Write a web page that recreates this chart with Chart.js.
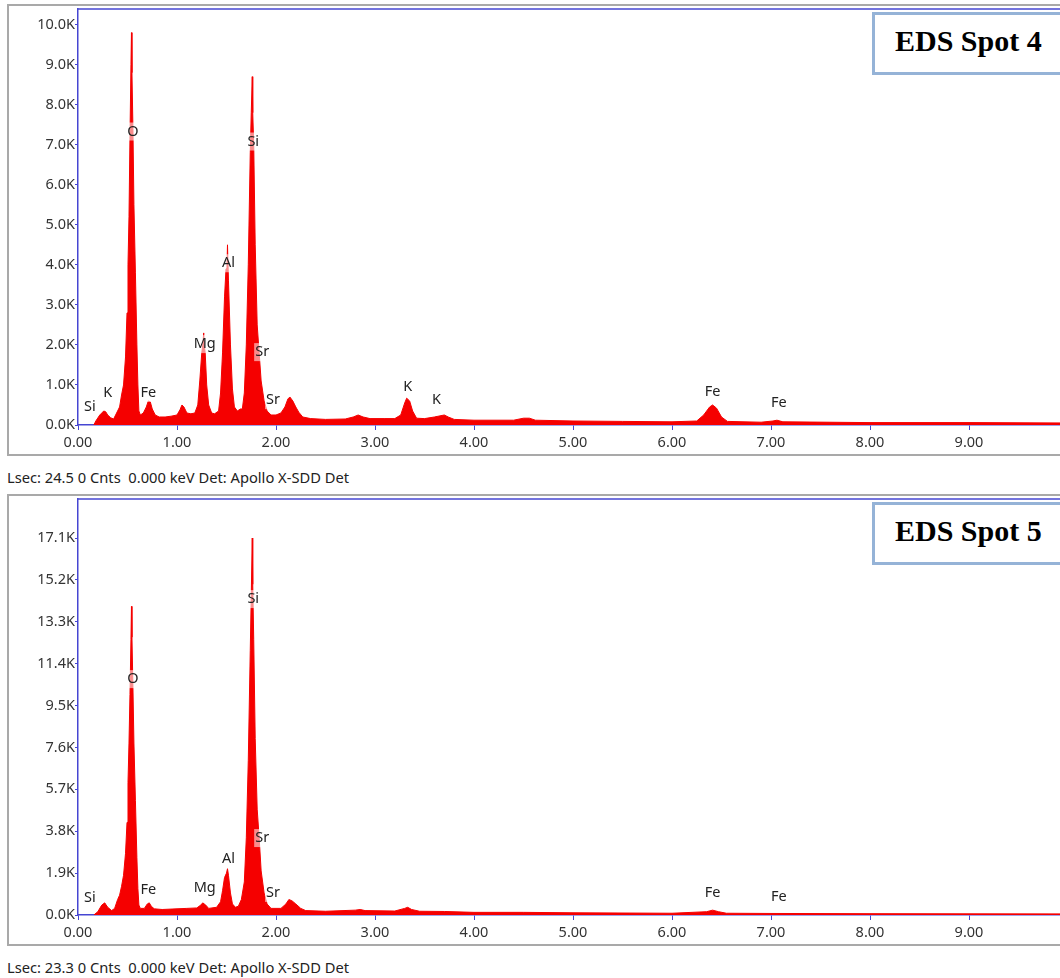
<!DOCTYPE html>
<html>
<head>
<meta charset="utf-8">
<script src="https://cdn.jsdelivr.net/npm/chart.js@4/dist/chart.umd.min.js"></script>
<style>
  html, body { margin: 0; padding: 0; background: #fff; overflow: hidden; width: 1060px; height: 978px; }
  .frame { position: absolute; left: 7px; width: 1100px; height: 452px; border: 2px solid #a9a9a9; box-sizing: border-box; }
  .panel { position: absolute; left: 0; }
  .status { position: absolute; left: 7px; font: 14.7px "Noto Sans", sans-serif; color: #222; }
  .spot { position: absolute; left: 872px; width: 200px; height: 63px; border: 3px solid #95b3d7; background: #fff;
          box-sizing: border-box; font: bold 30px "Liberation Serif", serif; color: #000; padding: 9px 0 0 20px; }
</style>
</head>
<body>
<div class="frame" style="top:4px"></div>
<div class="frame" style="top:494px"></div>
<canvas id="spot4" class="panel" style="top:0" width="1070" height="456"></canvas>
<canvas id="spot5" class="panel" style="top:490px" width="1070" height="456"></canvas>
<div class="spot" style="top:12px">EDS Spot 4</div>
<div class="spot" style="top:502px">EDS Spot 5</div>
<div class="status" style="top:467px">Lsec: 24.5 0 Cnts&nbsp;&nbsp;0.000 keV Det: Apollo X-SDD Det</div>
<div class="status" style="top:957px">Lsec: 23.3 0 Cnts&nbsp;&nbsp;0.000 keV Det: Apollo X-SDD Det</div>
<script>
// energy axis ticks (keV)
const energyTicks = [0, 1, 2, 3, 4, 5, 6, 7, 8, 9];

// Spot 4 spectrum
const spot4Energy = [0.16, 0.18, 0.22, 0.26, 0.28, 0.30, 0.33, 0.36, 0.38, 0.40, 0.42, 0.44, 0.46, 0.48, 0.495, 0.505,
  0.515, 0.525, 0.535, 0.54, 0.545, 0.555, 0.565, 0.58, 0.595, 0.605, 0.615, 0.63, 0.66, 0.69, 0.71, 0.73, 0.75, 0.78,
  0.82, 0.88, 0.94, 1.00, 1.03, 1.05, 1.07, 1.10, 1.14, 1.18, 1.21, 1.23, 1.25, 1.26, 1.27, 1.275, 1.285, 1.30, 1.32,
  1.35, 1.38, 1.42, 1.44, 1.46, 1.48, 1.495, 1.505, 1.51, 1.52, 1.54, 1.56, 1.58, 1.61, 1.64, 1.66, 1.68, 1.70, 1.72,
  1.74, 1.75, 1.76, 1.765, 1.775, 1.79, 1.81, 1.83, 1.85, 1.88, 1.91, 1.95, 2.00, 2.05, 2.09, 2.12, 2.14, 2.17, 2.20,
  2.23, 2.27, 2.35, 2.50, 2.70, 2.78, 2.83, 2.88, 2.95, 3.10, 3.20, 3.26, 3.30, 3.32, 3.35, 3.38, 3.42, 3.50, 3.60,
  3.70, 3.74, 3.80, 4.00, 4.40, 4.50, 4.56, 4.62, 5.00, 5.50, 6.00, 6.25, 6.32, 6.38, 6.41, 6.45, 6.50, 6.56, 6.90,
  7.02, 7.06, 7.12, 8.00, 9.00, 10.00];
const spot4Counts = [0, 100, 250, 350, 330, 250, 180, 150, 250, 350, 450, 750, 1000, 1700, 2800, 4000,
  5200, 7200, 9000, 9800, 8800, 7400, 5500, 3800, 2000, 1000, 350, 250, 300, 450, 600, 580, 400, 250,
  200, 200, 220, 250, 380, 500, 450, 300, 280, 300, 500, 1100, 1800, 2000, 2300, 2000, 1800, 1000, 500,
  300, 280, 350, 800, 1800, 3200, 3900, 4000, 4500, 3600, 2000, 900, 450, 350, 400, 400, 800, 2000, 4000,
  6800, 7800, 8700, 7800, 7000, 4500, 2500, 1800, 1100, 600, 350, 250, 250, 300, 450, 650, 700, 600, 450,
  320, 200, 160, 140, 150, 200, 250, 200, 160, 160, 160, 250, 550, 670, 600, 350, 170, 160, 200,
  250, 200, 140, 120, 120, 170, 170, 120, 100, 90, 80, 100, 250, 450, 500, 420, 200, 90, 70,
  100, 120, 80, 60, 60, 50];
const spot4YTicks = [0, 1000, 2000, 3000, 4000, 5000, 6000, 7000, 8000, 9000, 10000];
const spot4YMax = 10390;
const spot4Lines = ["Si", "K", "O", "Fe", "Mg", "Al", "Si", "Sr", "Sr", "K", "K", "Fe", "Fe"];
const spot4LineEnergy = [0.12, 0.30, 0.555, 0.71, 1.28, 1.52, 1.77, 1.86, 1.97, 3.33, 3.62, 6.41, 7.08];
const spot4LineCounts = [450, 800, 7330, 800, 2020, 4040, 7080, 1820, 620, 950, 620, 820, 550];

// Spot 5 spectrum
const spot5Energy = [0.16, 0.20, 0.24, 0.27, 0.30, 0.34, 0.37, 0.40, 0.42, 0.44, 0.46, 0.48, 0.495, 0.505, 0.515,
  0.525, 0.535, 0.54, 0.545, 0.555, 0.565, 0.58, 0.595, 0.605, 0.615, 0.63, 0.67, 0.70, 0.72, 0.74, 0.77, 0.85,
  1.00, 1.10, 1.20, 1.24, 1.26, 1.29, 1.32, 1.40, 1.44, 1.46, 1.48, 1.50, 1.51, 1.52, 1.54, 1.56, 1.59, 1.62, 1.65,
  1.68, 1.70, 1.72, 1.74, 1.75, 1.76, 1.765, 1.775, 1.79, 1.81, 1.83, 1.85, 1.88, 1.91, 1.95, 2.05, 2.10, 2.13,
  2.16, 2.20, 2.25, 2.30, 2.50, 2.80, 2.85, 2.90, 3.20, 3.30, 3.33, 3.37, 3.45, 3.70, 4.00, 4.50, 5.00, 6.00, 6.35,
  6.41, 6.47, 6.55, 7.00, 8.00, 10.00];
const spot5Counts = [0, 150, 450, 550, 350, 200, 300, 700, 900, 1300, 1800, 2800, 4200, 6000, 7800,
  10000, 12500, 14000, 12600, 10300, 7800, 5200, 2600, 1200, 450, 300, 300, 500, 550, 400, 280, 250,
  280, 300, 320, 450, 550, 450, 300, 350, 600, 1100, 1700, 1900, 2100, 1800, 1000, 500, 350, 400, 700,
  1500, 3500, 7000, 12000, 14500, 17100, 15000, 12500, 8000, 4800, 3500, 2000, 1000, 500, 300, 300, 500, 700,
  650, 500, 300, 200, 170, 220, 250, 200, 180, 300, 350, 250, 170, 160, 120, 120, 100, 80, 150,
  220, 150, 80, 70, 60, 50];
const spot5YTicks = [0, 1900, 3800, 5700, 7600, 9500, 11400, 13300, 15200, 17100];
const spot5YMax = 18870;
const spot5Lines = ["Si", "O", "Fe", "Mg", "Al", "Si", "Sr", "Sr", "Fe", "Fe"];
const spot5LineEnergy = [0.12, 0.555, 0.71, 1.28, 1.52, 1.77, 1.86, 1.97, 6.41, 7.08];
const spot5LineCounts = [770, 10700, 1130, 1220, 2540, 14330, 3490, 1000, 1000, 820];

const AXIS_BLUE = "#4646d2";
const SPECTRUM_RED = "#f50000";
const TICK_FONT = { family: "Noto Sans", size: 14.5 };

const peakLabels = {
  id: "peakLabels",
  afterDatasetsDraw(chart, args, opts) {
    const { ctx, scales: { x, y } } = chart;
    ctx.save();
    ctx.font = "14.5px 'Noto Sans'";
    ctx.textAlign = "center";
    ctx.textBaseline = "middle";
    opts.names.forEach((name, i) => {
      const px = x.getPixelForValue(opts.energy[i]);
      const py = y.getPixelForValue(opts.counts[i]);
      const w = ctx.measureText(name).width;
      ctx.fillStyle = "rgba(255,255,255,0.55)";
      ctx.fillRect(px - w / 2 - 1, py - 9, w + 2, 18);
      ctx.fillStyle = "#222";
      ctx.fillText(name, px, py);
    });
    ctx.restore();
  }
};

const topBorder = {
  id: "topBorder",
  afterDraw(chart) {
    const { ctx, chartArea } = chart;
    ctx.save();
    ctx.strokeStyle = AXIS_BLUE;
    ctx.lineWidth = 1.5;
    ctx.beginPath();
    ctx.moveTo(chartArea.left, chartArea.top);
    ctx.lineTo(chartArea.right, chartArea.top);
    ctx.stroke();
    ctx.restore();
  }
};

function makeSpectrum(id, energy, counts, yTicks, yMax, names, lineEnergy, lineCounts) {
  const canvas = document.getElementById(id);
  return new Chart(canvas, {
    type: "line",
    data: {
      datasets: [{
        data: energy.map((e, i) => ({ x: e, y: counts[i] })),
        fill: "origin",
        backgroundColor: SPECTRUM_RED,
        borderColor: SPECTRUM_RED,
        borderWidth: 1,
        pointRadius: 0,
        tension: 0
      }]
    },
    options: {
      responsive: false,
      animation: false,
      layout: { padding: { top: 9, right: 2, left: 0, bottom: 0 } },
      plugins: {
        legend: { display: false },
        tooltip: { enabled: false },
        peakLabels: { names, energy: lineEnergy, counts: lineCounts }
      },
      scales: {
        x: {
          type: "linear",
          min: 0,
          max: 10,
          afterBuildTicks: s => { s.ticks = energyTicks.map(v => ({ value: v })) },
          afterFit: s => { s.height = 31 },
          ticks: { callback: v => v.toFixed(2), font: TICK_FONT, color: "#333", padding: 4, maxRotation: 0 },
          grid: { drawOnChartArea: false, color: AXIS_BLUE, tickLength: 5 },
          border: { color: AXIS_BLUE, width: 1.5 }
        },
        y: {
          min: 0,
          max: yMax,
          afterBuildTicks: s => { s.ticks = yTicks.map(v => ({ value: v })) },
          afterFit: s => { s.width = 78 },
          ticks: { callback: v => (v / 1000).toFixed(1) + "K", font: TICK_FONT, color: "#333", padding: 0 },
          grid: { drawOnChartArea: false, color: AXIS_BLUE, tickLength: 3 },
          border: { color: AXIS_BLUE, width: 1.5 }
        }
      }
    },
    plugins: [peakLabels, topBorder]
  });
}

makeSpectrum("spot4", spot4Energy, spot4Counts, spot4YTicks, spot4YMax, spot4Lines, spot4LineEnergy, spot4LineCounts);
makeSpectrum("spot5", spot5Energy, spot5Counts, spot5YTicks, spot5YMax, spot5Lines, spot5LineEnergy, spot5LineCounts);
</script>
</body>
</html>
